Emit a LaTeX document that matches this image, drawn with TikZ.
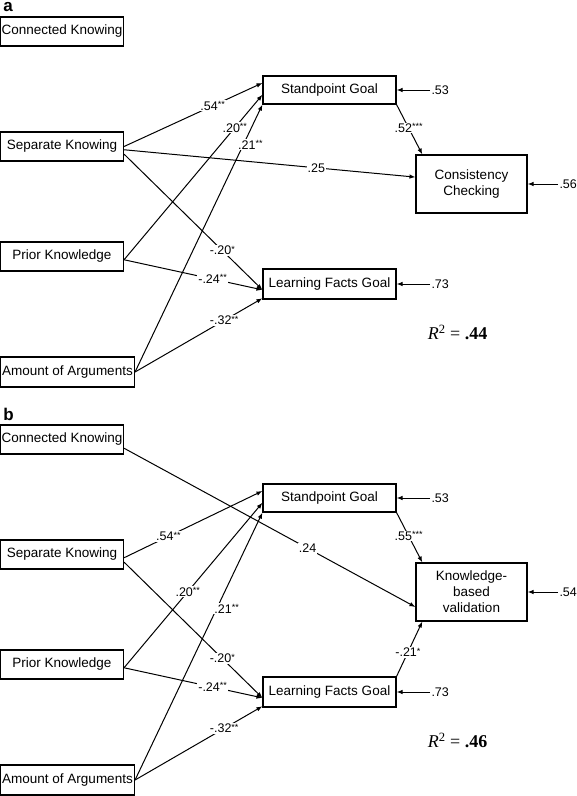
\documentclass[tikz,border=0pt]{standalone}
\usepackage{fontspec}
\setmainfont{Liberation Sans}
\newfontfamily\rsqfont{Liberation Serif}
\usetikzlibrary{arrows.meta}
\newcommand{\sigstar}[1]{\raisebox{2.6pt}{\fontsize{9}{10}\selectfont #1}}

\begin{document}
\begin{tikzpicture}[x=1pt, y=-1pt, line width=1pt,
        every node/.style={font=\fontsize{13.5}{16}\selectfont}]
    \tikzstyle{varBox} = [draw=black, line width=1.1pt, inner sep=1pt, minimum height=29pt]
    \tikzstyle{pathEdge} = [draw=black, -{Latex[length=6pt,width=4.5pt]}]
    \tikzstyle{coefLabel} = [fill=white, inner sep=1pt, font=\fontsize{12.5}{14}\selectfont]
    \tikzstyle{resLabel} = [anchor=west, inner sep=1pt, font=\fontsize{12.5}{14}\selectfont]
    \tikzstyle{panelLabel} = [inner sep=0pt, font=\fontsize{17}{18}\selectfont\bfseries]
    \tikzstyle{rsqLabel} = [anchor=west, font=\rsqfont\fontsize{18}{20}\selectfont]
    \useasboundingbox (0,0) rectangle (577,796);
    % panel a
    \node[panelLabel] (a) at (8,7.5) {a};
    \node[varBox, minimum width=123pt] (CKa) at (62,31.5) {Connected Knowing};
    \node[varBox, minimum width=123pt] (SKa) at (62,146.5) {Separate Knowing};
    \node[varBox, minimum width=123pt] (PKa) at (62,256.5) {Prior Knowledge};
    \node[varBox, minimum width=134pt, minimum height=30pt] (AoAa) at (67.5,372) {Amount of Arguments};
    \node[varBox, minimum width=133pt, minimum height=28pt] (SGa) at (329.5,90) {Standpoint Goal};
    \node[varBox, minimum width=133pt, minimum height=30pt] (LFGa) at (329.5,284) {Learning Facts Goal};
    \node[varBox, minimum width=111pt, minimum height=58pt, align=center] (CCa) at (471.5,184) {Consistency\\Checking};
    \node[resLabel] (eSGa) at (430,90) {.53};
    \node[resLabel] (eLFGa) at (430,284) {.73};
    \node[resLabel] (eCCa) at (558,184) {.56};
    \node[rsqLabel] (R2a) at (424,332.7) {\textit{R}\textsuperscript{2} = \textbf{.44}};
    \foreach \from/\to/\lab/\p/\xs in {SKa.east/SGa.174/.54\sigstar{**}/0.64/0pt,
                               PKa.-3/SGa.184/.20\sigstar{**}/0.8/0pt,
                               AoAa.east/SGa.south west/.21\sigstar{**}/0.85/7pt,
                               SKa.-3/CCa.173/.25/0.66/0pt,
                               SGa.south east/CCa.149/.52\sigstar{***}/0.47/0pt,
                               SKa.-7/LFGa.185/-.20\sigstar{*}/0.71/0pt,
                               PKa.-3/LFGa.185/-.24\sigstar{**}/0.64/0pt,
                               AoAa.east/LFGa.192/-.32\sigstar{**}/0.70/0pt}
        \path (\from) edge[pathEdge] node[coefLabel, pos=\p, xshift=\xs] {\lab} (\to);
    \foreach \from/\to in {eSGa/SGa, eLFGa/LFGa, eCCa/CCa}
        \path (\from) edge[pathEdge] (\to);
    % panel b
    \node[panelLabel] (b) at (8.5,414) {b};
    \node[varBox, minimum width=123pt] (CKb) at (62,439.5) {Connected Knowing};
    \node[varBox, minimum width=123pt] (SKb) at (62,554.5) {Separate Knowing};
    \node[varBox, minimum width=123pt] (PKb) at (62,664.5) {Prior Knowledge};
    \node[varBox, minimum width=134pt, minimum height=30pt] (AoAb) at (67.5,780) {Amount of Arguments};
    \node[varBox, minimum width=133pt, minimum height=28pt] (SGb) at (329.5,498) {Standpoint Goal};
    \node[varBox, minimum width=133pt, minimum height=30pt] (LFGb) at (329.5,692) {Learning Facts Goal};
    \node[varBox, minimum width=111pt, minimum height=58pt, align=center] (KBVb) at (471.5,592) {Knowledge-\\based\\validation};
    \node[resLabel] (eSGb) at (430,498) {.53};
    \node[resLabel] (eLFGb) at (430,692) {.73};
    \node[resLabel] (eKBVb) at (558,592) {.54};
    \node[rsqLabel] (R2b) at (424,740.7) {\textit{R}\textsuperscript{2} = \textbf{.46}};
    \foreach \from/\to/\lab/\p/\xs in {CKb.-8/KBVb.195/.24/0.63/0pt,
                               SKb.-3/SGb.174/.54\sigstar{**}/0.32/0pt,
                               PKb.-3/SGb.184/.20\sigstar{**}/0.46/0pt,
                               AoAb.east/SGb.south west/.21\sigstar{**}/0.64/10pt,
                               SGb.south east/KBVb.149/.55\sigstar{***}/0.47/0pt,
                               SKb.-7/LFGb.185/-.20\sigstar{*}/0.71/0pt,
                               PKb.-3/LFGb.185/-.24\sigstar{**}/0.64/0pt,
                               AoAb.east/LFGb.192/-.32\sigstar{**}/0.70/0pt,
                               LFGb.north east/KBVb.211/-.21\sigstar{*}/0.44/0pt}
        \path (\from) edge[pathEdge] node[coefLabel, pos=\p, xshift=\xs] {\lab} (\to);
    \foreach \from/\to in {eSGb/SGb, eLFGb/LFGb, eKBVb/KBVb}
        \path (\from) edge[pathEdge] (\to);
\end{tikzpicture}
\end{document}
